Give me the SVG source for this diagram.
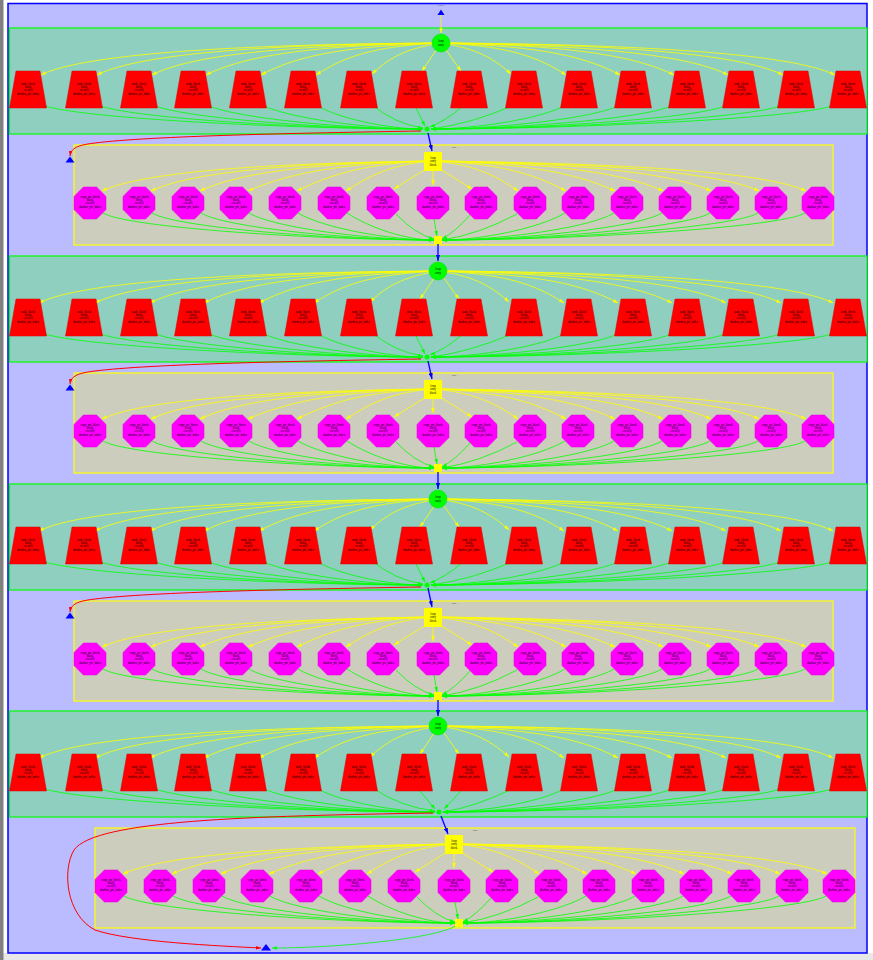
<svg xmlns="http://www.w3.org/2000/svg" width="873" height="960" viewBox="0 0 873 960">
<style>
.l{font-family:"Liberation Serif",serif;font-size:3px;text-anchor:middle;fill:#000}
.cl{font-family:"Liberation Serif",serif;font-size:2.6px;text-anchor:middle;fill:#555}
.ye{fill:none;stroke:#ffff00;stroke-width:.8;marker-end:url(#my)}
.ge{fill:none;stroke:#00ff00;stroke-width:.8;marker-end:url(#mg)}
.be{fill:none;stroke:#0000ff;stroke-width:1.3;marker-end:url(#mb)}
.re{fill:none;stroke:#ff0000;stroke-width:1;marker-end:url(#mr)}
.tp{fill:#ff0000;stroke:#dd0000;stroke-width:.5}
.oc{fill:#ff00ff;stroke:#dd00dd;stroke-width:.5}
.gc{fill:#8ecfc0;stroke:#00ff00;stroke-width:1.2}
.yc{fill:#cdcdbd;stroke:#ffff00;stroke-width:1.2}
.tri{fill:#0000ff}
</style>
<defs>
<marker id="my" viewBox="0 0 10 7" refX="10" refY="3.5" markerWidth="5" markerHeight="3.5" markerUnits="userSpaceOnUse" orient="auto"><path d="M0,0L10,3.5L0,7z" fill="#ffff00"/></marker>
<marker id="mg" viewBox="0 0 10 7" refX="10" refY="3.5" markerWidth="5" markerHeight="3.5" markerUnits="userSpaceOnUse" orient="auto"><path d="M0,0L10,3.5L0,7z" fill="#00ff00"/></marker>
<marker id="mb" viewBox="0 0 10 7" refX="10" refY="3.5" markerWidth="6" markerHeight="4.2" markerUnits="userSpaceOnUse" orient="auto"><path d="M0,0L10,3.5L0,7z" fill="#0000ff"/></marker>
<marker id="mr" viewBox="0 0 10 7" refX="10" refY="3.5" markerWidth="5" markerHeight="3.5" markerUnits="userSpaceOnUse" orient="auto"><path d="M0,0L10,3.5L0,7z" fill="#ff0000"/></marker>
<polygon id="tp" class="tp" points="-12,71 12,71 18.5,108 -18.5,108"/>
<polygon id="oc" class="oc" points="-6.6,-16 6.6,-16 16,-6.6 16,6.6 6.6,16 -6.6,16 -16,6.6 -16,-6.6"/>
<g id="ce">
<path class="ye" d="M441,43 C261,44 86,52 41,75"/>
<path class="ye" d="M441,43 C286,44 142,52 97,75"/>
<path class="ye" d="M441,43 C311,45 197,52 152,75"/>
<path class="ye" d="M441,43 C335,45 251,52 206,75"/>
<path class="ye" d="M441,43 C360,46 303,52 261,75"/>
<path class="ye" d="M441,43 C385,46 351,52 316,75"/>
<path class="ye" d="M441,43 C410,48 392,55 372,74"/>
<path class="ye" d="M441,43 L422,71"/>
<path class="ye" d="M441,43 L461,71"/>
<path class="ye" d="M441,43 C472,48 490,55 511,74"/>
<path class="ye" d="M441,43 C497,46 531,52 566,75"/>
<path class="ye" d="M441,43 C522,46 578,52 620,75"/>
<path class="ye" d="M441,43 C546,45 629,52 674,75"/>
<path class="ye" d="M441,43 C570,45 683,52 728,75"/>
<path class="ye" d="M441,43 C595,44 738,52 783,75"/>
<path class="ye" d="M441,43 C618,44 790,52 835,75"/>
</g>
<g id="te">
<path class="ge" d="M40,104 C65,118 292,129 423,129"/>
<path class="ge" d="M96,104 C121,118 311,129 423,129"/>
<path class="ge" d="M151,104 C176,118 330,129 423,129"/>
<path class="ge" d="M205,104 C230,118 349,129 423,129"/>
<path class="ge" d="M260,104 C285,118 369,129 423,129"/>
<path class="ge" d="M315,104 C335,118 388,129 423,129"/>
<path class="ge" d="M371,104 Q395,124 423,128"/>
<path class="ge" d="M416,108 L425,126"/>
<path class="ge" d="M462,107 Q445,121 430,127"/>
<path class="ge" d="M512,106 Q470,124 431,129"/>
<path class="ge" d="M567,104 C547,118 476,129 431,129"/>
<path class="ge" d="M621,104 C601,118 495,129 431,129"/>
<path class="ge" d="M675,104 C655,118 514,129 431,129"/>
<path class="ge" d="M729,104 C709,118 533,129 431,129"/>
<path class="ge" d="M784,104 C764,118 552,129 431,129"/>
<path class="ge" d="M836,104 C816,118 570,129 431,129"/>
</g>
<g id="se">
<path class="ye" d="M433,161 C284,163 147,170 102,191"/>
<path class="ye" d="M433,161 C306,163 196,170 151,191"/>
<path class="ye" d="M433,161 C328,163 245,170 200,191"/>
<path class="ye" d="M433,161 C350,163 293,171 248,191"/>
<path class="ye" d="M433,161 C372,163 335,172 297,191"/>
<path class="ye" d="M433,161 C394,164 372,174 346,191"/>
<path class="ye" d="M426,169 L394,189"/>
<path class="ye" d="M433,170 L433,185"/>
<path class="ye" d="M440,169 L472,189"/>
<path class="ye" d="M433,161 C471,164 494,174 518,191"/>
<path class="ye" d="M433,161 C493,163 531,172 566,191"/>
<path class="ye" d="M433,161 C515,163 573,171 615,191"/>
<path class="ye" d="M433,161 C537,163 618,170 663,191"/>
<path class="ye" d="M433,161 C558,163 666,170 711,191"/>
<path class="ye" d="M433,161 C580,163 714,170 759,191"/>
<path class="ye" d="M433,161 C601,163 761,170 806,191"/>
</g>
<g id="oe">
<path class="ge" d="M103,213 C128,228 321,240 434,240"/>
<path class="ge" d="M152,213 C177,228 338,240 434,240"/>
<path class="ge" d="M201,213 C226,228 355,240 434,240"/>
<path class="ge" d="M249,213 C274,228 372,240 434,240"/>
<path class="ge" d="M298,213 C323,228 389,240 434,240"/>
<path class="ge" d="M347,213 C370,228 406,240 434,240"/>
<path class="ge" d="M396,214 Q415,234 434,239"/>
<path class="ge" d="M434,219 L437,236"/>
<path class="ge" d="M470,215 Q455,232 442,239"/>
<path class="ge" d="M517,214 Q480,234 442,240"/>
<path class="ge" d="M565,213 C540,228 482,240 442,240"/>
<path class="ge" d="M614,213 C589,228 500,240 442,240"/>
<path class="ge" d="M662,213 C637,228 516,240 442,240"/>
<path class="ge" d="M710,213 C685,228 533,240 442,240"/>
<path class="ge" d="M758,213 C733,228 550,240 442,240"/>
<path class="ge" d="M805,213 C780,228 566,240 442,240"/>
</g>
</defs>
<rect x="0" y="0" width="873" height="960" fill="#ffffff"/>
<rect x="0" y="953" width="873" height="7" fill="#e8e8e8"/>
<rect x="0" y="0" width="3.5" height="960" fill="#808080"/>
<g id="clusters">
<rect id="outer" x="8" y="3.5" width="859" height="949.5" fill="#bbbbff" stroke="#0000ff" stroke-width="1.5"/>
<text class="cl" x="441" y="5.5">cluster</text>
<rect id="g1" class="gc" x="9.5" y="28" width="857.5" height="106"/>
<rect id="g2" class="gc" x="9.5" y="256" width="857.5" height="106"/>
<rect id="g3" class="gc" x="9.5" y="484" width="857.5" height="106"/>
<rect id="g4" class="gc" x="9.5" y="711" width="857.5" height="106"/>
<rect id="y1" class="yc" x="74" y="145" width="759" height="100"/>
<rect id="y2" class="yc" x="74" y="373" width="759" height="100"/>
<rect id="y3" class="yc" x="74" y="601" width="759" height="100"/>
<rect id="y4" class="yc" x="95" y="828" width="760" height="100"/>
<text class="cl" x="454" y="148">loop</text>
<text class="cl" x="454" y="376">loop</text>
<text class="cl" x="454" y="604">loop</text>
<text class="cl" x="475" y="831">loop</text>
</g>
<g id="connectors">
<path class="ye" d="M441,15 L441,33"/>
<use href="#ce"/>
<use href="#ce" transform="translate(-2,228)"/>
<use href="#ce" transform="translate(-2,456)"/>
<use href="#ce" transform="translate(-2,683)"/>
<use href="#te"/>
<use href="#te" transform="translate(0,228)"/>
<use href="#te" transform="translate(0,456)"/>
<path class="ge" d="M40,787 C65,801 299,812 435,812"/>
<path class="ge" d="M96,787 C121,801 319,812 435,812"/>
<path class="ge" d="M151,787 C176,801 338,812 435,812"/>
<path class="ge" d="M205,787 C230,801 357,812 435,812"/>
<path class="ge" d="M260,787 C285,801 376,812 435,812"/>
<path class="ge" d="M315,787 C335,801 396,812 435,812"/>
<path class="ge" d="M371,787 Q400,807 435,811"/>
<path class="ge" d="M420,791 L435,809"/>
<path class="ge" d="M462,790 L444,809"/>
<path class="ge" d="M512,789 Q475,807 443,812"/>
<path class="ge" d="M567,787 C547,801 484,812 443,812"/>
<path class="ge" d="M621,787 C601,801 503,812 443,812"/>
<path class="ge" d="M675,787 C655,801 522,812 443,812"/>
<path class="ge" d="M729,787 C709,801 541,812 443,812"/>
<path class="ge" d="M784,787 C764,801 560,812 443,812"/>
<path class="ge" d="M836,787 C816,801 578,812 443,812"/>
<use href="#se"/>
<use href="#se" transform="translate(0,228)"/>
<use href="#se" transform="translate(0,456)"/>
<use href="#se" transform="translate(21,683)"/>
<use href="#oe"/>
<use href="#oe" transform="translate(0,228)"/>
<use href="#oe" transform="translate(0,456)"/>
<use href="#oe" transform="translate(21,683)"/>
<path class="be" d="M428,133 L432,151"/>
<path class="be" d="M428,361 L432,379"/>
<path class="be" d="M428,588 L432,607"/>
<path class="be" d="M441,816 L448,834"/>
<path class="be" d="M438,244 L438,261"/>
<path class="be" d="M438,472 L438,489"/>
<path class="be" d="M438,700 L438,716"/>
<path class="re" d="M421,131 C300,133 150,136 95,143 C78,145 71,148 70,156"/>
<path class="re" d="M421,359 C300,361 150,364 95,371 C78,373 71,376 70,384"/>
<path class="re" d="M421,587 C300,589 150,592 95,599 C78,601 71,604 70,612"/>
<path class="re" d="M433,813 C250,816 95,820 74,850 C62,870 66,915 95,930 C130,942 220,946 261,948"/>
<path class="ge" d="M456,926 C430,940 330,948 272,948"/>
</g>
<g id="t0"><polygon class="tri" points="441,9.5 444.5,15 437.5,15"/></g>
<g id="tl1"><polygon class="tri" points="70,156.5 74.5,162.5 65.5,162.5"/></g>
<g id="tl2"><polygon class="tri" points="70,384.5 74.5,390.5 65.5,390.5"/></g>
<g id="tl3"><polygon class="tri" points="70,612.5 74.5,618.5 65.5,618.5"/></g>
<g id="tb"><polygon class="tri" points="266,944 271,950.5 261,950.5"/></g>
<g id="c1" transform="translate(441,43)"><circle r="9" fill="#00ff00" stroke="#00dd00" stroke-width=".5"/><text class="l" y="-1">loop</text><text class="l" y="2.5">entry</text></g>
<g id="c2" transform="translate(438,271)"><circle r="9" fill="#00ff00" stroke="#00dd00" stroke-width=".5"/><text class="l" y="-1">loop</text><text class="l" y="2.5">entry</text></g>
<g id="c3" transform="translate(438,499)"><circle r="9" fill="#00ff00" stroke="#00dd00" stroke-width=".5"/><text class="l" y="-1">loop</text><text class="l" y="2.5">entry</text></g>
<g id="c4" transform="translate(438,726)"><circle r="9" fill="#00ff00" stroke="#00dd00" stroke-width=".5"/><text class="l" y="-1">loop</text><text class="l" y="2.5">entry</text></g>
<g id="s1" transform="translate(433,161.5)"><rect x="-9" y="-9.5" width="18" height="19" fill="#ffff00"/><text class="l" y="-3">loop</text><text class="l" y="0.5">entry</text><text class="l" y="4">block</text></g>
<g id="s2" transform="translate(433,389.5)"><rect x="-9" y="-9.5" width="18" height="19" fill="#ffff00"/><text class="l" y="-3">loop</text><text class="l" y="0.5">entry</text><text class="l" y="4">block</text></g>
<g id="s3" transform="translate(433,617.5)"><rect x="-9" y="-9.5" width="18" height="19" fill="#ffff00"/><text class="l" y="-3">loop</text><text class="l" y="0.5">entry</text><text class="l" y="4">block</text></g>
<g id="s4" transform="translate(454,844.5)"><rect x="-9" y="-9.5" width="18" height="19" fill="#ffff00"/><text class="l" y="-3">loop</text><text class="l" y="0.5">entry</text><text class="l" y="4">block</text></g>
<g id="j1"><circle cx="427" cy="129" r="2.5" fill="#00ff00"/></g>
<g id="j2"><circle cx="427" cy="357" r="2.5" fill="#00ff00"/></g>
<g id="j3"><circle cx="427" cy="585" r="2.5" fill="#00ff00"/></g>
<g id="j4"><circle cx="439" cy="812" r="2.5" fill="#00ff00"/></g>
<g id="q1"><rect x="434" y="236" width="8" height="8" fill="#ffff00"/></g>
<g id="q2"><rect x="434" y="464" width="8" height="8" fill="#ffff00"/></g>
<g id="q3"><rect x="434" y="692" width="8" height="8" fill="#ffff00"/></g>
<g id="q4"><rect x="455" y="919" width="8" height="8" fill="#ffff00"/></g>
<g id="tr1_01" transform="translate(28,0)"><use href="#tp"/><text class="l" y="85"><tspan x="0">node_block</tspan><tspan x="0" dy="3.2">block</tspan><tspan x="0" dy="3.2">exec(0)</tspan><tspan x="0" dy="3.2">shadow_ptr_index</tspan></text></g>
<g id="tr1_02" transform="translate(84,0)"><use href="#tp"/><text class="l" y="85"><tspan x="0">node_block</tspan><tspan x="0" dy="3.2">block</tspan><tspan x="0" dy="3.2">exec(0)</tspan><tspan x="0" dy="3.2">shadow_ptr_index</tspan></text></g>
<g id="tr1_03" transform="translate(139,0)"><use href="#tp"/><text class="l" y="85"><tspan x="0">node_block</tspan><tspan x="0" dy="3.2">block</tspan><tspan x="0" dy="3.2">exec(0)</tspan><tspan x="0" dy="3.2">shadow_ptr_index</tspan></text></g>
<g id="tr1_04" transform="translate(193,0)"><use href="#tp"/><text class="l" y="85"><tspan x="0">node_block</tspan><tspan x="0" dy="3.2">block</tspan><tspan x="0" dy="3.2">exec(0)</tspan><tspan x="0" dy="3.2">shadow_ptr_index</tspan></text></g>
<g id="tr1_05" transform="translate(248,0)"><use href="#tp"/><text class="l" y="85"><tspan x="0">node_block</tspan><tspan x="0" dy="3.2">block</tspan><tspan x="0" dy="3.2">exec(0)</tspan><tspan x="0" dy="3.2">shadow_ptr_index</tspan></text></g>
<g id="tr1_06" transform="translate(303,0)"><use href="#tp"/><text class="l" y="85"><tspan x="0">node_block</tspan><tspan x="0" dy="3.2">block</tspan><tspan x="0" dy="3.2">exec(0)</tspan><tspan x="0" dy="3.2">shadow_ptr_index</tspan></text></g>
<g id="tr1_07" transform="translate(359,0)"><use href="#tp"/><text class="l" y="85"><tspan x="0">node_block</tspan><tspan x="0" dy="3.2">block</tspan><tspan x="0" dy="3.2">exec(0)</tspan><tspan x="0" dy="3.2">shadow_ptr_index</tspan></text></g>
<g id="tr1_08" transform="translate(414,0)"><use href="#tp"/><text class="l" y="85"><tspan x="0">node_block</tspan><tspan x="0" dy="3.2">block</tspan><tspan x="0" dy="3.2">exec(0)</tspan><tspan x="0" dy="3.2">shadow_ptr_index</tspan></text></g>
<g id="tr1_09" transform="translate(469,0)"><use href="#tp"/><text class="l" y="85"><tspan x="0">node_block</tspan><tspan x="0" dy="3.2">block</tspan><tspan x="0" dy="3.2">exec(0)</tspan><tspan x="0" dy="3.2">shadow_ptr_index</tspan></text></g>
<g id="tr1_10" transform="translate(524,0)"><use href="#tp"/><text class="l" y="85"><tspan x="0">node_block</tspan><tspan x="0" dy="3.2">block</tspan><tspan x="0" dy="3.2">exec(0)</tspan><tspan x="0" dy="3.2">shadow_ptr_index</tspan></text></g>
<g id="tr1_11" transform="translate(579,0)"><use href="#tp"/><text class="l" y="85"><tspan x="0">node_block</tspan><tspan x="0" dy="3.2">block</tspan><tspan x="0" dy="3.2">exec(0)</tspan><tspan x="0" dy="3.2">shadow_ptr_index</tspan></text></g>
<g id="tr1_12" transform="translate(633,0)"><use href="#tp"/><text class="l" y="85"><tspan x="0">node_block</tspan><tspan x="0" dy="3.2">block</tspan><tspan x="0" dy="3.2">exec(0)</tspan><tspan x="0" dy="3.2">shadow_ptr_index</tspan></text></g>
<g id="tr1_13" transform="translate(687,0)"><use href="#tp"/><text class="l" y="85"><tspan x="0">node_block</tspan><tspan x="0" dy="3.2">block</tspan><tspan x="0" dy="3.2">exec(0)</tspan><tspan x="0" dy="3.2">shadow_ptr_index</tspan></text></g>
<g id="tr1_14" transform="translate(741,0)"><use href="#tp"/><text class="l" y="85"><tspan x="0">node_block</tspan><tspan x="0" dy="3.2">block</tspan><tspan x="0" dy="3.2">exec(0)</tspan><tspan x="0" dy="3.2">shadow_ptr_index</tspan></text></g>
<g id="tr1_15" transform="translate(796,0)"><use href="#tp"/><text class="l" y="85"><tspan x="0">node_block</tspan><tspan x="0" dy="3.2">block</tspan><tspan x="0" dy="3.2">exec(0)</tspan><tspan x="0" dy="3.2">shadow_ptr_index</tspan></text></g>
<g id="tr1_16" transform="translate(848,0)"><use href="#tp"/><text class="l" y="85"><tspan x="0">node_block</tspan><tspan x="0" dy="3.2">block</tspan><tspan x="0" dy="3.2">exec(0)</tspan><tspan x="0" dy="3.2">shadow_ptr_index</tspan></text></g>
<g id="tr2_01" transform="translate(28,228)"><use href="#tp"/><text class="l" y="85"><tspan x="0">node_block</tspan><tspan x="0" dy="3.2">block</tspan><tspan x="0" dy="3.2">exec(0)</tspan><tspan x="0" dy="3.2">shadow_ptr_index</tspan></text></g>
<g id="tr2_02" transform="translate(84,228)"><use href="#tp"/><text class="l" y="85"><tspan x="0">node_block</tspan><tspan x="0" dy="3.2">block</tspan><tspan x="0" dy="3.2">exec(0)</tspan><tspan x="0" dy="3.2">shadow_ptr_index</tspan></text></g>
<g id="tr2_03" transform="translate(139,228)"><use href="#tp"/><text class="l" y="85"><tspan x="0">node_block</tspan><tspan x="0" dy="3.2">block</tspan><tspan x="0" dy="3.2">exec(0)</tspan><tspan x="0" dy="3.2">shadow_ptr_index</tspan></text></g>
<g id="tr2_04" transform="translate(193,228)"><use href="#tp"/><text class="l" y="85"><tspan x="0">node_block</tspan><tspan x="0" dy="3.2">block</tspan><tspan x="0" dy="3.2">exec(0)</tspan><tspan x="0" dy="3.2">shadow_ptr_index</tspan></text></g>
<g id="tr2_05" transform="translate(248,228)"><use href="#tp"/><text class="l" y="85"><tspan x="0">node_block</tspan><tspan x="0" dy="3.2">block</tspan><tspan x="0" dy="3.2">exec(0)</tspan><tspan x="0" dy="3.2">shadow_ptr_index</tspan></text></g>
<g id="tr2_06" transform="translate(303,228)"><use href="#tp"/><text class="l" y="85"><tspan x="0">node_block</tspan><tspan x="0" dy="3.2">block</tspan><tspan x="0" dy="3.2">exec(0)</tspan><tspan x="0" dy="3.2">shadow_ptr_index</tspan></text></g>
<g id="tr2_07" transform="translate(359,228)"><use href="#tp"/><text class="l" y="85"><tspan x="0">node_block</tspan><tspan x="0" dy="3.2">block</tspan><tspan x="0" dy="3.2">exec(0)</tspan><tspan x="0" dy="3.2">shadow_ptr_index</tspan></text></g>
<g id="tr2_08" transform="translate(414,228)"><use href="#tp"/><text class="l" y="85"><tspan x="0">node_block</tspan><tspan x="0" dy="3.2">block</tspan><tspan x="0" dy="3.2">exec(0)</tspan><tspan x="0" dy="3.2">shadow_ptr_index</tspan></text></g>
<g id="tr2_09" transform="translate(469,228)"><use href="#tp"/><text class="l" y="85"><tspan x="0">node_block</tspan><tspan x="0" dy="3.2">block</tspan><tspan x="0" dy="3.2">exec(0)</tspan><tspan x="0" dy="3.2">shadow_ptr_index</tspan></text></g>
<g id="tr2_10" transform="translate(524,228)"><use href="#tp"/><text class="l" y="85"><tspan x="0">node_block</tspan><tspan x="0" dy="3.2">block</tspan><tspan x="0" dy="3.2">exec(0)</tspan><tspan x="0" dy="3.2">shadow_ptr_index</tspan></text></g>
<g id="tr2_11" transform="translate(579,228)"><use href="#tp"/><text class="l" y="85"><tspan x="0">node_block</tspan><tspan x="0" dy="3.2">block</tspan><tspan x="0" dy="3.2">exec(0)</tspan><tspan x="0" dy="3.2">shadow_ptr_index</tspan></text></g>
<g id="tr2_12" transform="translate(633,228)"><use href="#tp"/><text class="l" y="85"><tspan x="0">node_block</tspan><tspan x="0" dy="3.2">block</tspan><tspan x="0" dy="3.2">exec(0)</tspan><tspan x="0" dy="3.2">shadow_ptr_index</tspan></text></g>
<g id="tr2_13" transform="translate(687,228)"><use href="#tp"/><text class="l" y="85"><tspan x="0">node_block</tspan><tspan x="0" dy="3.2">block</tspan><tspan x="0" dy="3.2">exec(0)</tspan><tspan x="0" dy="3.2">shadow_ptr_index</tspan></text></g>
<g id="tr2_14" transform="translate(741,228)"><use href="#tp"/><text class="l" y="85"><tspan x="0">node_block</tspan><tspan x="0" dy="3.2">block</tspan><tspan x="0" dy="3.2">exec(0)</tspan><tspan x="0" dy="3.2">shadow_ptr_index</tspan></text></g>
<g id="tr2_15" transform="translate(796,228)"><use href="#tp"/><text class="l" y="85"><tspan x="0">node_block</tspan><tspan x="0" dy="3.2">block</tspan><tspan x="0" dy="3.2">exec(0)</tspan><tspan x="0" dy="3.2">shadow_ptr_index</tspan></text></g>
<g id="tr2_16" transform="translate(848,228)"><use href="#tp"/><text class="l" y="85"><tspan x="0">node_block</tspan><tspan x="0" dy="3.2">block</tspan><tspan x="0" dy="3.2">exec(0)</tspan><tspan x="0" dy="3.2">shadow_ptr_index</tspan></text></g>
<g id="tr3_01" transform="translate(28,456)"><use href="#tp"/><text class="l" y="85"><tspan x="0">node_block</tspan><tspan x="0" dy="3.2">block</tspan><tspan x="0" dy="3.2">exec(0)</tspan><tspan x="0" dy="3.2">shadow_ptr_index</tspan></text></g>
<g id="tr3_02" transform="translate(84,456)"><use href="#tp"/><text class="l" y="85"><tspan x="0">node_block</tspan><tspan x="0" dy="3.2">block</tspan><tspan x="0" dy="3.2">exec(0)</tspan><tspan x="0" dy="3.2">shadow_ptr_index</tspan></text></g>
<g id="tr3_03" transform="translate(139,456)"><use href="#tp"/><text class="l" y="85"><tspan x="0">node_block</tspan><tspan x="0" dy="3.2">block</tspan><tspan x="0" dy="3.2">exec(0)</tspan><tspan x="0" dy="3.2">shadow_ptr_index</tspan></text></g>
<g id="tr3_04" transform="translate(193,456)"><use href="#tp"/><text class="l" y="85"><tspan x="0">node_block</tspan><tspan x="0" dy="3.2">block</tspan><tspan x="0" dy="3.2">exec(0)</tspan><tspan x="0" dy="3.2">shadow_ptr_index</tspan></text></g>
<g id="tr3_05" transform="translate(248,456)"><use href="#tp"/><text class="l" y="85"><tspan x="0">node_block</tspan><tspan x="0" dy="3.2">block</tspan><tspan x="0" dy="3.2">exec(0)</tspan><tspan x="0" dy="3.2">shadow_ptr_index</tspan></text></g>
<g id="tr3_06" transform="translate(303,456)"><use href="#tp"/><text class="l" y="85"><tspan x="0">node_block</tspan><tspan x="0" dy="3.2">block</tspan><tspan x="0" dy="3.2">exec(0)</tspan><tspan x="0" dy="3.2">shadow_ptr_index</tspan></text></g>
<g id="tr3_07" transform="translate(359,456)"><use href="#tp"/><text class="l" y="85"><tspan x="0">node_block</tspan><tspan x="0" dy="3.2">block</tspan><tspan x="0" dy="3.2">exec(0)</tspan><tspan x="0" dy="3.2">shadow_ptr_index</tspan></text></g>
<g id="tr3_08" transform="translate(414,456)"><use href="#tp"/><text class="l" y="85"><tspan x="0">node_block</tspan><tspan x="0" dy="3.2">block</tspan><tspan x="0" dy="3.2">exec(0)</tspan><tspan x="0" dy="3.2">shadow_ptr_index</tspan></text></g>
<g id="tr3_09" transform="translate(469,456)"><use href="#tp"/><text class="l" y="85"><tspan x="0">node_block</tspan><tspan x="0" dy="3.2">block</tspan><tspan x="0" dy="3.2">exec(0)</tspan><tspan x="0" dy="3.2">shadow_ptr_index</tspan></text></g>
<g id="tr3_10" transform="translate(524,456)"><use href="#tp"/><text class="l" y="85"><tspan x="0">node_block</tspan><tspan x="0" dy="3.2">block</tspan><tspan x="0" dy="3.2">exec(0)</tspan><tspan x="0" dy="3.2">shadow_ptr_index</tspan></text></g>
<g id="tr3_11" transform="translate(579,456)"><use href="#tp"/><text class="l" y="85"><tspan x="0">node_block</tspan><tspan x="0" dy="3.2">block</tspan><tspan x="0" dy="3.2">exec(0)</tspan><tspan x="0" dy="3.2">shadow_ptr_index</tspan></text></g>
<g id="tr3_12" transform="translate(633,456)"><use href="#tp"/><text class="l" y="85"><tspan x="0">node_block</tspan><tspan x="0" dy="3.2">block</tspan><tspan x="0" dy="3.2">exec(0)</tspan><tspan x="0" dy="3.2">shadow_ptr_index</tspan></text></g>
<g id="tr3_13" transform="translate(687,456)"><use href="#tp"/><text class="l" y="85"><tspan x="0">node_block</tspan><tspan x="0" dy="3.2">block</tspan><tspan x="0" dy="3.2">exec(0)</tspan><tspan x="0" dy="3.2">shadow_ptr_index</tspan></text></g>
<g id="tr3_14" transform="translate(741,456)"><use href="#tp"/><text class="l" y="85"><tspan x="0">node_block</tspan><tspan x="0" dy="3.2">block</tspan><tspan x="0" dy="3.2">exec(0)</tspan><tspan x="0" dy="3.2">shadow_ptr_index</tspan></text></g>
<g id="tr3_15" transform="translate(796,456)"><use href="#tp"/><text class="l" y="85"><tspan x="0">node_block</tspan><tspan x="0" dy="3.2">block</tspan><tspan x="0" dy="3.2">exec(0)</tspan><tspan x="0" dy="3.2">shadow_ptr_index</tspan></text></g>
<g id="tr3_16" transform="translate(848,456)"><use href="#tp"/><text class="l" y="85"><tspan x="0">node_block</tspan><tspan x="0" dy="3.2">block</tspan><tspan x="0" dy="3.2">exec(0)</tspan><tspan x="0" dy="3.2">shadow_ptr_index</tspan></text></g>
<g id="tr4_01" transform="translate(28,683)"><use href="#tp"/><text class="l" y="85"><tspan x="0">node_block</tspan><tspan x="0" dy="3.2">block</tspan><tspan x="0" dy="3.2">exec(0)</tspan><tspan x="0" dy="3.2">shadow_ptr_index</tspan></text></g>
<g id="tr4_02" transform="translate(84,683)"><use href="#tp"/><text class="l" y="85"><tspan x="0">node_block</tspan><tspan x="0" dy="3.2">block</tspan><tspan x="0" dy="3.2">exec(0)</tspan><tspan x="0" dy="3.2">shadow_ptr_index</tspan></text></g>
<g id="tr4_03" transform="translate(139,683)"><use href="#tp"/><text class="l" y="85"><tspan x="0">node_block</tspan><tspan x="0" dy="3.2">block</tspan><tspan x="0" dy="3.2">exec(0)</tspan><tspan x="0" dy="3.2">shadow_ptr_index</tspan></text></g>
<g id="tr4_04" transform="translate(193,683)"><use href="#tp"/><text class="l" y="85"><tspan x="0">node_block</tspan><tspan x="0" dy="3.2">block</tspan><tspan x="0" dy="3.2">exec(0)</tspan><tspan x="0" dy="3.2">shadow_ptr_index</tspan></text></g>
<g id="tr4_05" transform="translate(248,683)"><use href="#tp"/><text class="l" y="85"><tspan x="0">node_block</tspan><tspan x="0" dy="3.2">block</tspan><tspan x="0" dy="3.2">exec(0)</tspan><tspan x="0" dy="3.2">shadow_ptr_index</tspan></text></g>
<g id="tr4_06" transform="translate(303,683)"><use href="#tp"/><text class="l" y="85"><tspan x="0">node_block</tspan><tspan x="0" dy="3.2">block</tspan><tspan x="0" dy="3.2">exec(0)</tspan><tspan x="0" dy="3.2">shadow_ptr_index</tspan></text></g>
<g id="tr4_07" transform="translate(359,683)"><use href="#tp"/><text class="l" y="85"><tspan x="0">node_block</tspan><tspan x="0" dy="3.2">block</tspan><tspan x="0" dy="3.2">exec(0)</tspan><tspan x="0" dy="3.2">shadow_ptr_index</tspan></text></g>
<g id="tr4_08" transform="translate(414,683)"><use href="#tp"/><text class="l" y="85"><tspan x="0">node_block</tspan><tspan x="0" dy="3.2">block</tspan><tspan x="0" dy="3.2">exec(0)</tspan><tspan x="0" dy="3.2">shadow_ptr_index</tspan></text></g>
<g id="tr4_09" transform="translate(469,683)"><use href="#tp"/><text class="l" y="85"><tspan x="0">node_block</tspan><tspan x="0" dy="3.2">block</tspan><tspan x="0" dy="3.2">exec(0)</tspan><tspan x="0" dy="3.2">shadow_ptr_index</tspan></text></g>
<g id="tr4_10" transform="translate(524,683)"><use href="#tp"/><text class="l" y="85"><tspan x="0">node_block</tspan><tspan x="0" dy="3.2">block</tspan><tspan x="0" dy="3.2">exec(0)</tspan><tspan x="0" dy="3.2">shadow_ptr_index</tspan></text></g>
<g id="tr4_11" transform="translate(579,683)"><use href="#tp"/><text class="l" y="85"><tspan x="0">node_block</tspan><tspan x="0" dy="3.2">block</tspan><tspan x="0" dy="3.2">exec(0)</tspan><tspan x="0" dy="3.2">shadow_ptr_index</tspan></text></g>
<g id="tr4_12" transform="translate(633,683)"><use href="#tp"/><text class="l" y="85"><tspan x="0">node_block</tspan><tspan x="0" dy="3.2">block</tspan><tspan x="0" dy="3.2">exec(0)</tspan><tspan x="0" dy="3.2">shadow_ptr_index</tspan></text></g>
<g id="tr4_13" transform="translate(687,683)"><use href="#tp"/><text class="l" y="85"><tspan x="0">node_block</tspan><tspan x="0" dy="3.2">block</tspan><tspan x="0" dy="3.2">exec(0)</tspan><tspan x="0" dy="3.2">shadow_ptr_index</tspan></text></g>
<g id="tr4_14" transform="translate(741,683)"><use href="#tp"/><text class="l" y="85"><tspan x="0">node_block</tspan><tspan x="0" dy="3.2">block</tspan><tspan x="0" dy="3.2">exec(0)</tspan><tspan x="0" dy="3.2">shadow_ptr_index</tspan></text></g>
<g id="tr4_15" transform="translate(796,683)"><use href="#tp"/><text class="l" y="85"><tspan x="0">node_block</tspan><tspan x="0" dy="3.2">block</tspan><tspan x="0" dy="3.2">exec(0)</tspan><tspan x="0" dy="3.2">shadow_ptr_index</tspan></text></g>
<g id="tr4_16" transform="translate(848,683)"><use href="#tp"/><text class="l" y="85"><tspan x="0">node_block</tspan><tspan x="0" dy="3.2">block</tspan><tspan x="0" dy="3.2">exec(0)</tspan><tspan x="0" dy="3.2">shadow_ptr_index</tspan></text></g>
<g id="oc1_01" transform="translate(90,203)"><use href="#oc"/><text class="l" y="-5"><tspan x="0">copy_ptr_block</tspan><tspan x="0" dy="3.2">block</tspan><tspan x="0" dy="3.2">exec(0)</tspan><tspan x="0" dy="3.2">shadow_ptr_index</tspan></text></g>
<g id="oc1_02" transform="translate(139,203)"><use href="#oc"/><text class="l" y="-5"><tspan x="0">copy_ptr_block</tspan><tspan x="0" dy="3.2">block</tspan><tspan x="0" dy="3.2">exec(0)</tspan><tspan x="0" dy="3.2">shadow_ptr_index</tspan></text></g>
<g id="oc1_03" transform="translate(188,203)"><use href="#oc"/><text class="l" y="-5"><tspan x="0">copy_ptr_block</tspan><tspan x="0" dy="3.2">block</tspan><tspan x="0" dy="3.2">exec(0)</tspan><tspan x="0" dy="3.2">shadow_ptr_index</tspan></text></g>
<g id="oc1_04" transform="translate(236,203)"><use href="#oc"/><text class="l" y="-5"><tspan x="0">copy_ptr_block</tspan><tspan x="0" dy="3.2">block</tspan><tspan x="0" dy="3.2">exec(0)</tspan><tspan x="0" dy="3.2">shadow_ptr_index</tspan></text></g>
<g id="oc1_05" transform="translate(285,203)"><use href="#oc"/><text class="l" y="-5"><tspan x="0">copy_ptr_block</tspan><tspan x="0" dy="3.2">block</tspan><tspan x="0" dy="3.2">exec(0)</tspan><tspan x="0" dy="3.2">shadow_ptr_index</tspan></text></g>
<g id="oc1_06" transform="translate(334,203)"><use href="#oc"/><text class="l" y="-5"><tspan x="0">copy_ptr_block</tspan><tspan x="0" dy="3.2">block</tspan><tspan x="0" dy="3.2">exec(0)</tspan><tspan x="0" dy="3.2">shadow_ptr_index</tspan></text></g>
<g id="oc1_07" transform="translate(383,203)"><use href="#oc"/><text class="l" y="-5"><tspan x="0">copy_ptr_block</tspan><tspan x="0" dy="3.2">block</tspan><tspan x="0" dy="3.2">exec(0)</tspan><tspan x="0" dy="3.2">shadow_ptr_index</tspan></text></g>
<g id="oc1_08" transform="translate(433,203)"><use href="#oc"/><text class="l" y="-5"><tspan x="0">copy_ptr_block</tspan><tspan x="0" dy="3.2">block</tspan><tspan x="0" dy="3.2">exec(0)</tspan><tspan x="0" dy="3.2">shadow_ptr_index</tspan></text></g>
<g id="oc1_09" transform="translate(481,203)"><use href="#oc"/><text class="l" y="-5"><tspan x="0">copy_ptr_block</tspan><tspan x="0" dy="3.2">block</tspan><tspan x="0" dy="3.2">exec(0)</tspan><tspan x="0" dy="3.2">shadow_ptr_index</tspan></text></g>
<g id="oc1_10" transform="translate(530,203)"><use href="#oc"/><text class="l" y="-5"><tspan x="0">copy_ptr_block</tspan><tspan x="0" dy="3.2">block</tspan><tspan x="0" dy="3.2">exec(0)</tspan><tspan x="0" dy="3.2">shadow_ptr_index</tspan></text></g>
<g id="oc1_11" transform="translate(578,203)"><use href="#oc"/><text class="l" y="-5"><tspan x="0">copy_ptr_block</tspan><tspan x="0" dy="3.2">block</tspan><tspan x="0" dy="3.2">exec(0)</tspan><tspan x="0" dy="3.2">shadow_ptr_index</tspan></text></g>
<g id="oc1_12" transform="translate(627,203)"><use href="#oc"/><text class="l" y="-5"><tspan x="0">copy_ptr_block</tspan><tspan x="0" dy="3.2">block</tspan><tspan x="0" dy="3.2">exec(0)</tspan><tspan x="0" dy="3.2">shadow_ptr_index</tspan></text></g>
<g id="oc1_13" transform="translate(675,203)"><use href="#oc"/><text class="l" y="-5"><tspan x="0">copy_ptr_block</tspan><tspan x="0" dy="3.2">block</tspan><tspan x="0" dy="3.2">exec(0)</tspan><tspan x="0" dy="3.2">shadow_ptr_index</tspan></text></g>
<g id="oc1_14" transform="translate(723,203)"><use href="#oc"/><text class="l" y="-5"><tspan x="0">copy_ptr_block</tspan><tspan x="0" dy="3.2">block</tspan><tspan x="0" dy="3.2">exec(0)</tspan><tspan x="0" dy="3.2">shadow_ptr_index</tspan></text></g>
<g id="oc1_15" transform="translate(771,203)"><use href="#oc"/><text class="l" y="-5"><tspan x="0">copy_ptr_block</tspan><tspan x="0" dy="3.2">block</tspan><tspan x="0" dy="3.2">exec(0)</tspan><tspan x="0" dy="3.2">shadow_ptr_index</tspan></text></g>
<g id="oc1_16" transform="translate(818,203)"><use href="#oc"/><text class="l" y="-5"><tspan x="0">copy_ptr_block</tspan><tspan x="0" dy="3.2">block</tspan><tspan x="0" dy="3.2">exec(0)</tspan><tspan x="0" dy="3.2">shadow_ptr_index</tspan></text></g>
<g id="oc2_01" transform="translate(90,431)"><use href="#oc"/><text class="l" y="-5"><tspan x="0">copy_ptr_block</tspan><tspan x="0" dy="3.2">block</tspan><tspan x="0" dy="3.2">exec(0)</tspan><tspan x="0" dy="3.2">shadow_ptr_index</tspan></text></g>
<g id="oc2_02" transform="translate(139,431)"><use href="#oc"/><text class="l" y="-5"><tspan x="0">copy_ptr_block</tspan><tspan x="0" dy="3.2">block</tspan><tspan x="0" dy="3.2">exec(0)</tspan><tspan x="0" dy="3.2">shadow_ptr_index</tspan></text></g>
<g id="oc2_03" transform="translate(188,431)"><use href="#oc"/><text class="l" y="-5"><tspan x="0">copy_ptr_block</tspan><tspan x="0" dy="3.2">block</tspan><tspan x="0" dy="3.2">exec(0)</tspan><tspan x="0" dy="3.2">shadow_ptr_index</tspan></text></g>
<g id="oc2_04" transform="translate(236,431)"><use href="#oc"/><text class="l" y="-5"><tspan x="0">copy_ptr_block</tspan><tspan x="0" dy="3.2">block</tspan><tspan x="0" dy="3.2">exec(0)</tspan><tspan x="0" dy="3.2">shadow_ptr_index</tspan></text></g>
<g id="oc2_05" transform="translate(285,431)"><use href="#oc"/><text class="l" y="-5"><tspan x="0">copy_ptr_block</tspan><tspan x="0" dy="3.2">block</tspan><tspan x="0" dy="3.2">exec(0)</tspan><tspan x="0" dy="3.2">shadow_ptr_index</tspan></text></g>
<g id="oc2_06" transform="translate(334,431)"><use href="#oc"/><text class="l" y="-5"><tspan x="0">copy_ptr_block</tspan><tspan x="0" dy="3.2">block</tspan><tspan x="0" dy="3.2">exec(0)</tspan><tspan x="0" dy="3.2">shadow_ptr_index</tspan></text></g>
<g id="oc2_07" transform="translate(383,431)"><use href="#oc"/><text class="l" y="-5"><tspan x="0">copy_ptr_block</tspan><tspan x="0" dy="3.2">block</tspan><tspan x="0" dy="3.2">exec(0)</tspan><tspan x="0" dy="3.2">shadow_ptr_index</tspan></text></g>
<g id="oc2_08" transform="translate(433,431)"><use href="#oc"/><text class="l" y="-5"><tspan x="0">copy_ptr_block</tspan><tspan x="0" dy="3.2">block</tspan><tspan x="0" dy="3.2">exec(0)</tspan><tspan x="0" dy="3.2">shadow_ptr_index</tspan></text></g>
<g id="oc2_09" transform="translate(481,431)"><use href="#oc"/><text class="l" y="-5"><tspan x="0">copy_ptr_block</tspan><tspan x="0" dy="3.2">block</tspan><tspan x="0" dy="3.2">exec(0)</tspan><tspan x="0" dy="3.2">shadow_ptr_index</tspan></text></g>
<g id="oc2_10" transform="translate(530,431)"><use href="#oc"/><text class="l" y="-5"><tspan x="0">copy_ptr_block</tspan><tspan x="0" dy="3.2">block</tspan><tspan x="0" dy="3.2">exec(0)</tspan><tspan x="0" dy="3.2">shadow_ptr_index</tspan></text></g>
<g id="oc2_11" transform="translate(578,431)"><use href="#oc"/><text class="l" y="-5"><tspan x="0">copy_ptr_block</tspan><tspan x="0" dy="3.2">block</tspan><tspan x="0" dy="3.2">exec(0)</tspan><tspan x="0" dy="3.2">shadow_ptr_index</tspan></text></g>
<g id="oc2_12" transform="translate(627,431)"><use href="#oc"/><text class="l" y="-5"><tspan x="0">copy_ptr_block</tspan><tspan x="0" dy="3.2">block</tspan><tspan x="0" dy="3.2">exec(0)</tspan><tspan x="0" dy="3.2">shadow_ptr_index</tspan></text></g>
<g id="oc2_13" transform="translate(675,431)"><use href="#oc"/><text class="l" y="-5"><tspan x="0">copy_ptr_block</tspan><tspan x="0" dy="3.2">block</tspan><tspan x="0" dy="3.2">exec(0)</tspan><tspan x="0" dy="3.2">shadow_ptr_index</tspan></text></g>
<g id="oc2_14" transform="translate(723,431)"><use href="#oc"/><text class="l" y="-5"><tspan x="0">copy_ptr_block</tspan><tspan x="0" dy="3.2">block</tspan><tspan x="0" dy="3.2">exec(0)</tspan><tspan x="0" dy="3.2">shadow_ptr_index</tspan></text></g>
<g id="oc2_15" transform="translate(771,431)"><use href="#oc"/><text class="l" y="-5"><tspan x="0">copy_ptr_block</tspan><tspan x="0" dy="3.2">block</tspan><tspan x="0" dy="3.2">exec(0)</tspan><tspan x="0" dy="3.2">shadow_ptr_index</tspan></text></g>
<g id="oc2_16" transform="translate(818,431)"><use href="#oc"/><text class="l" y="-5"><tspan x="0">copy_ptr_block</tspan><tspan x="0" dy="3.2">block</tspan><tspan x="0" dy="3.2">exec(0)</tspan><tspan x="0" dy="3.2">shadow_ptr_index</tspan></text></g>
<g id="oc3_01" transform="translate(90,659)"><use href="#oc"/><text class="l" y="-5"><tspan x="0">copy_ptr_block</tspan><tspan x="0" dy="3.2">block</tspan><tspan x="0" dy="3.2">exec(0)</tspan><tspan x="0" dy="3.2">shadow_ptr_index</tspan></text></g>
<g id="oc3_02" transform="translate(139,659)"><use href="#oc"/><text class="l" y="-5"><tspan x="0">copy_ptr_block</tspan><tspan x="0" dy="3.2">block</tspan><tspan x="0" dy="3.2">exec(0)</tspan><tspan x="0" dy="3.2">shadow_ptr_index</tspan></text></g>
<g id="oc3_03" transform="translate(188,659)"><use href="#oc"/><text class="l" y="-5"><tspan x="0">copy_ptr_block</tspan><tspan x="0" dy="3.2">block</tspan><tspan x="0" dy="3.2">exec(0)</tspan><tspan x="0" dy="3.2">shadow_ptr_index</tspan></text></g>
<g id="oc3_04" transform="translate(236,659)"><use href="#oc"/><text class="l" y="-5"><tspan x="0">copy_ptr_block</tspan><tspan x="0" dy="3.2">block</tspan><tspan x="0" dy="3.2">exec(0)</tspan><tspan x="0" dy="3.2">shadow_ptr_index</tspan></text></g>
<g id="oc3_05" transform="translate(285,659)"><use href="#oc"/><text class="l" y="-5"><tspan x="0">copy_ptr_block</tspan><tspan x="0" dy="3.2">block</tspan><tspan x="0" dy="3.2">exec(0)</tspan><tspan x="0" dy="3.2">shadow_ptr_index</tspan></text></g>
<g id="oc3_06" transform="translate(334,659)"><use href="#oc"/><text class="l" y="-5"><tspan x="0">copy_ptr_block</tspan><tspan x="0" dy="3.2">block</tspan><tspan x="0" dy="3.2">exec(0)</tspan><tspan x="0" dy="3.2">shadow_ptr_index</tspan></text></g>
<g id="oc3_07" transform="translate(383,659)"><use href="#oc"/><text class="l" y="-5"><tspan x="0">copy_ptr_block</tspan><tspan x="0" dy="3.2">block</tspan><tspan x="0" dy="3.2">exec(0)</tspan><tspan x="0" dy="3.2">shadow_ptr_index</tspan></text></g>
<g id="oc3_08" transform="translate(433,659)"><use href="#oc"/><text class="l" y="-5"><tspan x="0">copy_ptr_block</tspan><tspan x="0" dy="3.2">block</tspan><tspan x="0" dy="3.2">exec(0)</tspan><tspan x="0" dy="3.2">shadow_ptr_index</tspan></text></g>
<g id="oc3_09" transform="translate(481,659)"><use href="#oc"/><text class="l" y="-5"><tspan x="0">copy_ptr_block</tspan><tspan x="0" dy="3.2">block</tspan><tspan x="0" dy="3.2">exec(0)</tspan><tspan x="0" dy="3.2">shadow_ptr_index</tspan></text></g>
<g id="oc3_10" transform="translate(530,659)"><use href="#oc"/><text class="l" y="-5"><tspan x="0">copy_ptr_block</tspan><tspan x="0" dy="3.2">block</tspan><tspan x="0" dy="3.2">exec(0)</tspan><tspan x="0" dy="3.2">shadow_ptr_index</tspan></text></g>
<g id="oc3_11" transform="translate(578,659)"><use href="#oc"/><text class="l" y="-5"><tspan x="0">copy_ptr_block</tspan><tspan x="0" dy="3.2">block</tspan><tspan x="0" dy="3.2">exec(0)</tspan><tspan x="0" dy="3.2">shadow_ptr_index</tspan></text></g>
<g id="oc3_12" transform="translate(627,659)"><use href="#oc"/><text class="l" y="-5"><tspan x="0">copy_ptr_block</tspan><tspan x="0" dy="3.2">block</tspan><tspan x="0" dy="3.2">exec(0)</tspan><tspan x="0" dy="3.2">shadow_ptr_index</tspan></text></g>
<g id="oc3_13" transform="translate(675,659)"><use href="#oc"/><text class="l" y="-5"><tspan x="0">copy_ptr_block</tspan><tspan x="0" dy="3.2">block</tspan><tspan x="0" dy="3.2">exec(0)</tspan><tspan x="0" dy="3.2">shadow_ptr_index</tspan></text></g>
<g id="oc3_14" transform="translate(723,659)"><use href="#oc"/><text class="l" y="-5"><tspan x="0">copy_ptr_block</tspan><tspan x="0" dy="3.2">block</tspan><tspan x="0" dy="3.2">exec(0)</tspan><tspan x="0" dy="3.2">shadow_ptr_index</tspan></text></g>
<g id="oc3_15" transform="translate(771,659)"><use href="#oc"/><text class="l" y="-5"><tspan x="0">copy_ptr_block</tspan><tspan x="0" dy="3.2">block</tspan><tspan x="0" dy="3.2">exec(0)</tspan><tspan x="0" dy="3.2">shadow_ptr_index</tspan></text></g>
<g id="oc3_16" transform="translate(818,659)"><use href="#oc"/><text class="l" y="-5"><tspan x="0">copy_ptr_block</tspan><tspan x="0" dy="3.2">block</tspan><tspan x="0" dy="3.2">exec(0)</tspan><tspan x="0" dy="3.2">shadow_ptr_index</tspan></text></g>
<g id="oc4_01" transform="translate(111,886)"><use href="#oc"/><text class="l" y="-5"><tspan x="0">copy_ptr_block</tspan><tspan x="0" dy="3.2">block</tspan><tspan x="0" dy="3.2">exec(0)</tspan><tspan x="0" dy="3.2">shadow_ptr_index</tspan></text></g>
<g id="oc4_02" transform="translate(160,886)"><use href="#oc"/><text class="l" y="-5"><tspan x="0">copy_ptr_block</tspan><tspan x="0" dy="3.2">block</tspan><tspan x="0" dy="3.2">exec(0)</tspan><tspan x="0" dy="3.2">shadow_ptr_index</tspan></text></g>
<g id="oc4_03" transform="translate(209,886)"><use href="#oc"/><text class="l" y="-5"><tspan x="0">copy_ptr_block</tspan><tspan x="0" dy="3.2">block</tspan><tspan x="0" dy="3.2">exec(0)</tspan><tspan x="0" dy="3.2">shadow_ptr_index</tspan></text></g>
<g id="oc4_04" transform="translate(257,886)"><use href="#oc"/><text class="l" y="-5"><tspan x="0">copy_ptr_block</tspan><tspan x="0" dy="3.2">block</tspan><tspan x="0" dy="3.2">exec(0)</tspan><tspan x="0" dy="3.2">shadow_ptr_index</tspan></text></g>
<g id="oc4_05" transform="translate(306,886)"><use href="#oc"/><text class="l" y="-5"><tspan x="0">copy_ptr_block</tspan><tspan x="0" dy="3.2">block</tspan><tspan x="0" dy="3.2">exec(0)</tspan><tspan x="0" dy="3.2">shadow_ptr_index</tspan></text></g>
<g id="oc4_06" transform="translate(355,886)"><use href="#oc"/><text class="l" y="-5"><tspan x="0">copy_ptr_block</tspan><tspan x="0" dy="3.2">block</tspan><tspan x="0" dy="3.2">exec(0)</tspan><tspan x="0" dy="3.2">shadow_ptr_index</tspan></text></g>
<g id="oc4_07" transform="translate(404,886)"><use href="#oc"/><text class="l" y="-5"><tspan x="0">copy_ptr_block</tspan><tspan x="0" dy="3.2">block</tspan><tspan x="0" dy="3.2">exec(0)</tspan><tspan x="0" dy="3.2">shadow_ptr_index</tspan></text></g>
<g id="oc4_08" transform="translate(454,886)"><use href="#oc"/><text class="l" y="-5"><tspan x="0">copy_ptr_block</tspan><tspan x="0" dy="3.2">block</tspan><tspan x="0" dy="3.2">exec(0)</tspan><tspan x="0" dy="3.2">shadow_ptr_index</tspan></text></g>
<g id="oc4_09" transform="translate(502,886)"><use href="#oc"/><text class="l" y="-5"><tspan x="0">copy_ptr_block</tspan><tspan x="0" dy="3.2">block</tspan><tspan x="0" dy="3.2">exec(0)</tspan><tspan x="0" dy="3.2">shadow_ptr_index</tspan></text></g>
<g id="oc4_10" transform="translate(551,886)"><use href="#oc"/><text class="l" y="-5"><tspan x="0">copy_ptr_block</tspan><tspan x="0" dy="3.2">block</tspan><tspan x="0" dy="3.2">exec(0)</tspan><tspan x="0" dy="3.2">shadow_ptr_index</tspan></text></g>
<g id="oc4_11" transform="translate(599,886)"><use href="#oc"/><text class="l" y="-5"><tspan x="0">copy_ptr_block</tspan><tspan x="0" dy="3.2">block</tspan><tspan x="0" dy="3.2">exec(0)</tspan><tspan x="0" dy="3.2">shadow_ptr_index</tspan></text></g>
<g id="oc4_12" transform="translate(648,886)"><use href="#oc"/><text class="l" y="-5"><tspan x="0">copy_ptr_block</tspan><tspan x="0" dy="3.2">block</tspan><tspan x="0" dy="3.2">exec(0)</tspan><tspan x="0" dy="3.2">shadow_ptr_index</tspan></text></g>
<g id="oc4_13" transform="translate(696,886)"><use href="#oc"/><text class="l" y="-5"><tspan x="0">copy_ptr_block</tspan><tspan x="0" dy="3.2">block</tspan><tspan x="0" dy="3.2">exec(0)</tspan><tspan x="0" dy="3.2">shadow_ptr_index</tspan></text></g>
<g id="oc4_14" transform="translate(744,886)"><use href="#oc"/><text class="l" y="-5"><tspan x="0">copy_ptr_block</tspan><tspan x="0" dy="3.2">block</tspan><tspan x="0" dy="3.2">exec(0)</tspan><tspan x="0" dy="3.2">shadow_ptr_index</tspan></text></g>
<g id="oc4_15" transform="translate(792,886)"><use href="#oc"/><text class="l" y="-5"><tspan x="0">copy_ptr_block</tspan><tspan x="0" dy="3.2">block</tspan><tspan x="0" dy="3.2">exec(0)</tspan><tspan x="0" dy="3.2">shadow_ptr_index</tspan></text></g>
<g id="oc4_16" transform="translate(839,886)"><use href="#oc"/><text class="l" y="-5"><tspan x="0">copy_ptr_block</tspan><tspan x="0" dy="3.2">block</tspan><tspan x="0" dy="3.2">exec(0)</tspan><tspan x="0" dy="3.2">shadow_ptr_index</tspan></text></g>
</svg>
